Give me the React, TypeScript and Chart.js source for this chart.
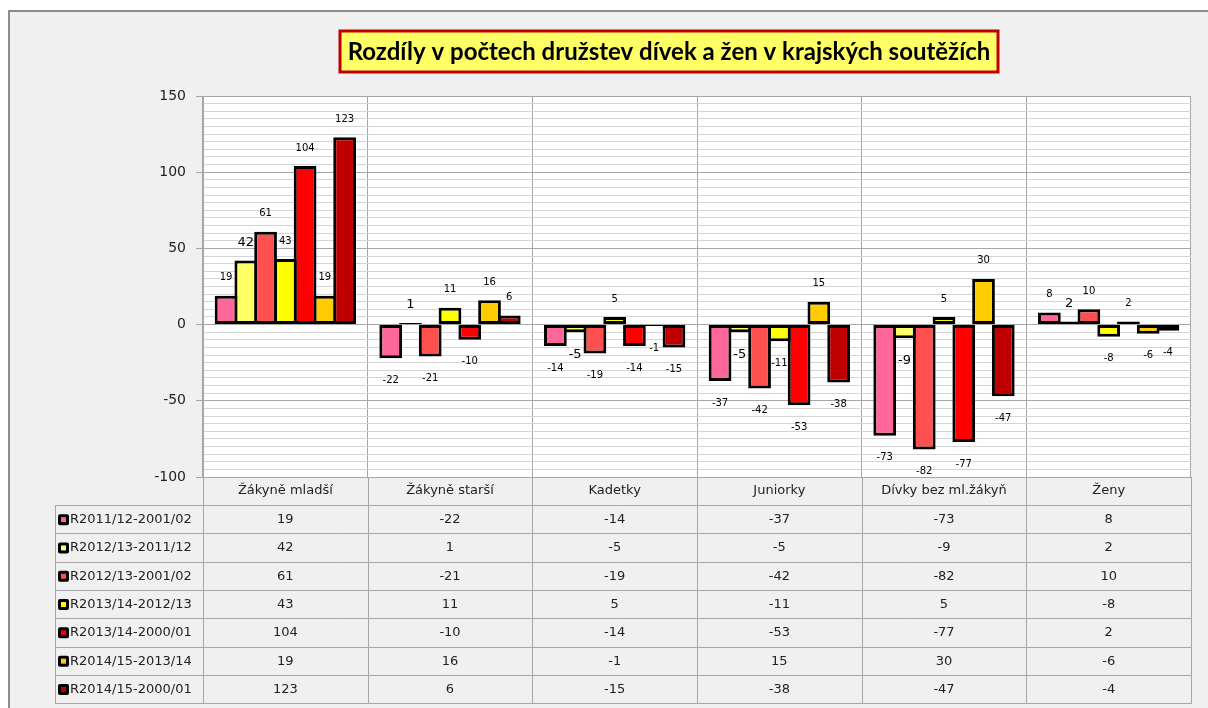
import React, { useEffect, useRef } from "react";
import { Chart, registerables } from "chart.js";

Chart.register(...registerables);

const title = "Rozdíly v počtech družstev dívek a žen v krajských soutěžích";
const categories = ["Žákyně mladší", "Žákyně starší", "Kadetky", "Juniorky", "Dívky bez ml.žákyň", "Ženy"];
const seriesNames = [
  "R2011/12-2001/02",
  "R2012/13-2011/12",
  "R2012/13-2001/02",
  "R2013/14-2012/13",
  "R2013/14-2000/01",
  "R2014/15-2013/14",
  "R2014/15-2000/01",
];
const r2011_2001 = [19, -22, -14, -37, -73, 8];
const r2012_2011 = [42, 1, -5, -5, -9, 2];
const r2012_2001 = [61, -21, -19, -42, -82, 10];
const r2013_2012 = [43, 11, 5, -11, 5, -8];
const r2013_2000 = [104, -10, -14, -53, -77, 2];
const r2014_2013 = [19, 16, -1, 15, 30, -6];
const r2014_2000 = [123, 6, -15, -38, -47, -4];
const seriesValues = [r2011_2001, r2012_2011, r2012_2001, r2013_2012, r2013_2000, r2014_2013, r2014_2000];
const yTickLabels = [150, 100, 50, 0, -50, -100];

const colors = ["#ff6699", "#ffff66", "#ff5050", "#ffff00", "#ff0000", "#ffcc00", "#c00000"];
const FONT = "'DejaVu Sans', sans-serif";
const GRID = "#a6a6a6";

const bgPlugin = {
  id: "bg",
  beforeDraw(chart: any) {
    const { ctx, chartArea } = chart;
    ctx.save();
    ctx.fillStyle = "#ffffff";
    ctx.fillRect(0, 0, chart.width, chart.height);
    ctx.fillStyle = "#f0f0f0";
    ctx.fillRect(8, 10, chart.width - 8, chart.height - 10);
    ctx.fillStyle = "#8c8c8c";
    ctx.fillRect(8, 10, chart.width - 8, 2);
    ctx.fillRect(8, 10, 2, chart.height - 10);
    ctx.fillStyle = "#ffffff";
    ctx.fillRect(chartArea.left, chartArea.top, chartArea.right - chartArea.left, chartArea.bottom - chartArea.top);
    ctx.restore();
  },
};

const titlePlugin = {
  id: "titleBox",
  afterDraw(chart: any) {
    const { ctx } = chart;
    ctx.save();
    ctx.font = "bold 24px Lato, sans-serif";
    const w = ctx.measureText(title).width;
    const cx = 669;
    const x0 = Math.round(cx - w / 2 - 8);
    const x1 = Math.round(cx + w / 2 + 8);
    ctx.fillStyle = "#ffff66";
    ctx.fillRect(x0, 31, x1 - x0, 41);
    ctx.strokeStyle = "#c00000";
    ctx.lineWidth = 3;
    ctx.strokeRect(x0, 31, x1 - x0, 41);
    ctx.fillStyle = "#000000";
    ctx.textAlign = "center";
    ctx.textBaseline = "middle";
    ctx.fillText(title, cx, 52);
    ctx.restore();
  },
};

const labelPlugin = {
  id: "barLabels",
  afterDatasetsDraw(chart: any) {
    const { ctx } = chart;
    ctx.save();
    ctx.fillStyle = "#000000";
    ctx.textAlign = "center";
    ctx.textBaseline = "middle";
    chart.data.datasets.forEach((ds: any, di: number) => {
      const meta = chart.getDatasetMeta(di);
      ctx.font = (di === 1 ? "13px " : "10px ") + FONT;
      meta.data.forEach((el: any, i: number) => {
        const v = ds.data[i];
        const y = v >= 0 ? el.y - 18 : el.y + 22;
        ctx.fillText(String(v), el.x, y);
      });
    });
    ctx.restore();
  },
};

const tablePlugin = {
  id: "dataTable",
  afterDraw(chart: any) {
    const { ctx, chartArea } = chart;
    const xs = chart.scales.x;
    const n = categories.length;
    const cw = (chartArea.right - chartArea.left) / n;
    const top = chartArea.bottom;
    const headH = 28;
    const rowH = 28.3;
    const tableLeft = 55;
    const rowsTop = top + headH;
    const bottom = rowsTop + rowH * seriesNames.length;
    ctx.save();
    ctx.strokeStyle = GRID;
    ctx.lineWidth = 1;
    ctx.beginPath();
    for (let i = 0; i <= n; i++) {
      const x = Math.round(chartArea.left + i * cw) + 0.5;
      ctx.moveTo(x, top);
      ctx.lineTo(x, bottom);
    }
    ctx.moveTo(tableLeft + 0.5, rowsTop);
    ctx.lineTo(tableLeft + 0.5, bottom);
    for (let r = 0; r <= seriesNames.length; r++) {
      const y = Math.round(rowsTop + r * rowH) + 0.5;
      ctx.moveTo(tableLeft, y);
      ctx.lineTo(chartArea.right + 1, y);
    }
    ctx.stroke();

    ctx.fillStyle = "#222222";
    ctx.font = "13px " + FONT;
    ctx.textAlign = "center";
    ctx.textBaseline = "middle";
    categories.forEach((c, i) => {
      ctx.fillText(c, xs.getPixelForValue(i), top + headH / 2);
    });
    seriesNames.forEach((name, r) => {
      const cy = rowsTop + r * rowH + rowH / 2;
      ctx.fillStyle = "#000000";
      ctx.beginPath();
      ctx.roundRect(tableLeft + 3, cy - 5, 11, 11, 2);
      ctx.fill();
      ctx.fillStyle = colors[r];
      ctx.fillRect(tableLeft + 6, cy - 2, 5, 5);
      ctx.fillStyle = "#222222";
      ctx.textAlign = "left";
      ctx.fillText(name, tableLeft + 15, cy + 0.5);
      ctx.textAlign = "center";
      seriesValues[r].forEach((v, i) => {
        ctx.fillText(String(v), xs.getPixelForValue(i), cy + 0.5);
      });
    });
    ctx.restore();
  },
};

export default function App() {
  const ref = useRef<HTMLCanvasElement>(null);
  useEffect(() => {
    if (!ref.current) return;
    const chart = new Chart(ref.current, {
      type: "bar",
      data: {
        labels: categories,
        datasets: seriesNames.map((name, i) => ({
          label: name,
          data: seriesValues[i],
          backgroundColor: colors[i],
          borderColor: "#000000",
          borderWidth: 3,
          borderSkipped: false,
          categoryPercentage: 0.84,
          barPercentage: 1.15,
        })),
      },
      options: {
        responsive: false,
        animation: false,
        layout: { padding: { left: 0, right: 17, top: 96, bottom: 231 } },
        plugins: {
          legend: { display: false },
          title: { display: false },
          tooltip: { enabled: false },
        },
        scales: {
          x: {
            grid: { color: GRID, offset: true, drawTicks: false },
            border: { display: false },
            ticks: { display: false },
            afterFit: (s: any) => {
              s.height = 0;
            },
          },
          y: {
            min: -100,
            max: 150,
            afterFit: (s: any) => {
              s.width = 203;
            },
            border: { color: GRID },
            grid: {
              color: (c: any) => (c.tick && c.tick.value % 50 === 0 ? GRID : "#d4d4d4"),
              tickColor: (c: any) => (c.tick && c.tick.value % 50 === 0 ? GRID : "rgba(0,0,0,0)"),
              tickLength: 7,
            },
            ticks: {
              stepSize: 5,
              autoSkip: false,
              maxTicksLimit: 100,
              padding: 10,
              color: "#222222",
              font: { family: FONT, size: 14 },
              callback: (v: any) => (yTickLabels.includes(Number(v)) ? String(v) : ""),
            },
          },
        },
      },
      plugins: [bgPlugin, titlePlugin, labelPlugin, tablePlugin],
    });
    return () => chart.destroy();
  }, []);
  return (
    <div style={{ position: "fixed", left: 0, top: 0, width: 1208, height: 708 }}>
      <canvas ref={ref} width={1208} height={708} style={{ display: "block", width: 1208, height: 708 }} />
    </div>
  );
}
